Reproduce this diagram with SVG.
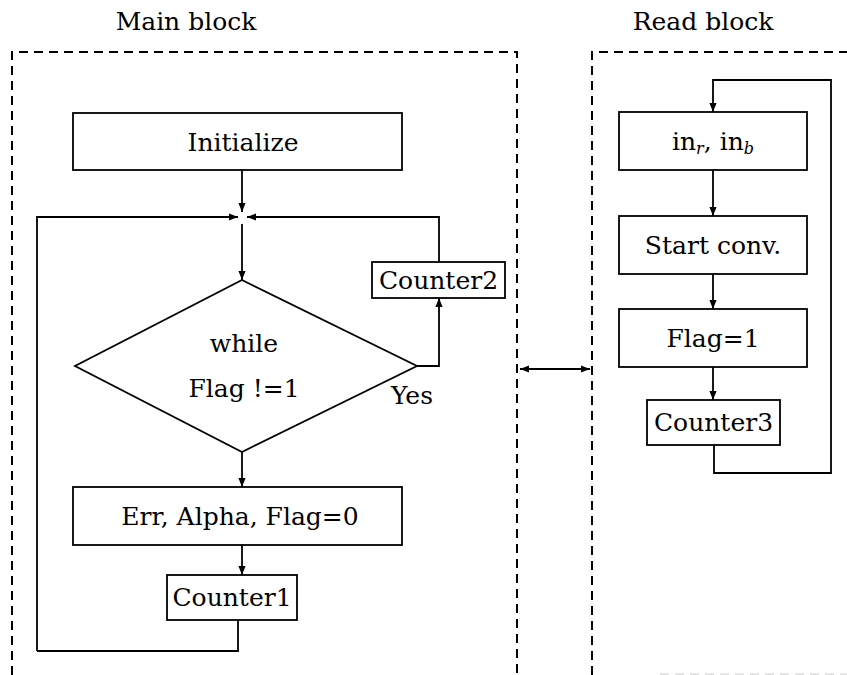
<svg xmlns="http://www.w3.org/2000/svg" width="847" height="675" viewBox="0 0 847 675">
  <defs>
    <marker id="arr" viewBox="0 0 10 10" refX="10" refY="5" markerWidth="9" markerHeight="9" markerUnits="userSpaceOnUse" orient="auto-start-reverse">
      <path d="M0,1 L10,5 L0,9 Z" fill="#000"/>
    </marker>
    <style>
      .box { fill: #fff; stroke: #000; stroke-width: 1.8; }
      .edge { fill: none; stroke: #000; stroke-width: 1.8; }
      .frame { fill: none; stroke: #000; stroke-width: 2; stroke-dasharray: 9 6; }
      .lbl { font-family: "DejaVu Serif", "Liberation Serif", serif; font-size: 25px; fill: #000; text-anchor: middle; }
      .title { font-family: "DejaVu Serif", "Liberation Serif", serif; font-size: 25px; fill: #000; text-anchor: middle; }
      .sub { font-size: 16px; font-style: italic; }
    </style>
  </defs>
  <rect width="847" height="675" fill="#fff"/>

  <!-- block frames -->
  <g id="frames">
    <path class="frame" d="M12,675 V52 H517 V675"/>
    <path class="frame" d="M592,675 V52 H847"/>
    <path d="M660,674 H847" fill="none" stroke="#ddd" stroke-width="1.5" stroke-dasharray="9 6"/>
    <text class="title" x="186" y="30">Main block</text>
    <text class="title" x="703" y="30">Read block</text>
  </g>

  <!-- connectors -->
  <g id="connectors">
    <path class="edge" d="M242,170 V212" marker-end="url(#arr)"/>
    <path class="edge" d="M37,651 V217 H238" marker-end="url(#arr)"/>
    <path class="edge" d="M439,262 V217 H247" marker-end="url(#arr)"/>
    <path class="edge" d="M242,224 V280" marker-end="url(#arr)"/>
    <path class="edge" d="M417,366 H439 V298" marker-end="url(#arr)"/>
    <path class="edge" d="M242,452 V487" marker-end="url(#arr)"/>
    <path class="edge" d="M242,545 V575" marker-end="url(#arr)"/>
    <path class="edge" d="M238,620 V651 H37"/>
    <path class="edge" d="M520,369 H590" marker-start="url(#arr)" marker-end="url(#arr)"/>
    <path class="edge" d="M714,445 V473 H831 V80 H713 V112" marker-end="url(#arr)"/>
    <path class="edge" d="M713,170 V216" marker-end="url(#arr)"/>
    <path class="edge" d="M713,274 V309" marker-end="url(#arr)"/>
    <path class="edge" d="M713,367 V400" marker-end="url(#arr)"/>
  </g>

  <!-- main block nodes -->
  <g id="initialize">
    <rect class="box" x="73" y="113" width="329" height="57"/>
    <text class="lbl" x="243" y="151">Initialize</text>
  </g>
  <g id="while">
    <polygon class="box" points="242,280 417,366 242,452 75,366"/>
    <text class="lbl" x="244" y="352">while</text>
    <text class="lbl" x="244" y="397">Flag !=1</text>
  </g>
  <g id="yes-label">
    <text class="lbl" x="412" y="404">Yes</text>
  </g>
  <g id="counter2">
    <rect class="box" x="372" y="262" width="133" height="36"/>
    <text class="lbl" x="438.5" y="289">Counter2</text>
  </g>
  <g id="err">
    <rect class="box" x="73" y="487" width="329" height="58"/>
    <text class="lbl" x="240" y="525">Err, Alpha, Flag=0</text>
  </g>
  <g id="counter1">
    <rect class="box" x="167" y="575" width="130" height="45"/>
    <text class="lbl" x="232" y="606">Counter1</text>
  </g>

  <!-- read block nodes -->
  <g id="inputs">
    <rect class="box" x="619" y="112" width="188" height="58"/>
    <text class="lbl" x="713" y="150">in<tspan class="sub" dy="4">r</tspan><tspan dy="-4">, in</tspan><tspan class="sub" dy="4">b</tspan></text>
  </g>
  <g id="start-conv">
    <rect class="box" x="619" y="216" width="188" height="58"/>
    <text class="lbl" x="713" y="254">Start conv.</text>
  </g>
  <g id="flag-set">
    <rect class="box" x="619" y="309" width="188" height="58"/>
    <text class="lbl" x="713" y="347">Flag=1</text>
  </g>
  <g id="counter3">
    <rect class="box" x="647" y="400" width="133" height="45"/>
    <text class="lbl" x="713.5" y="431">Counter3</text>
  </g>
</svg>
